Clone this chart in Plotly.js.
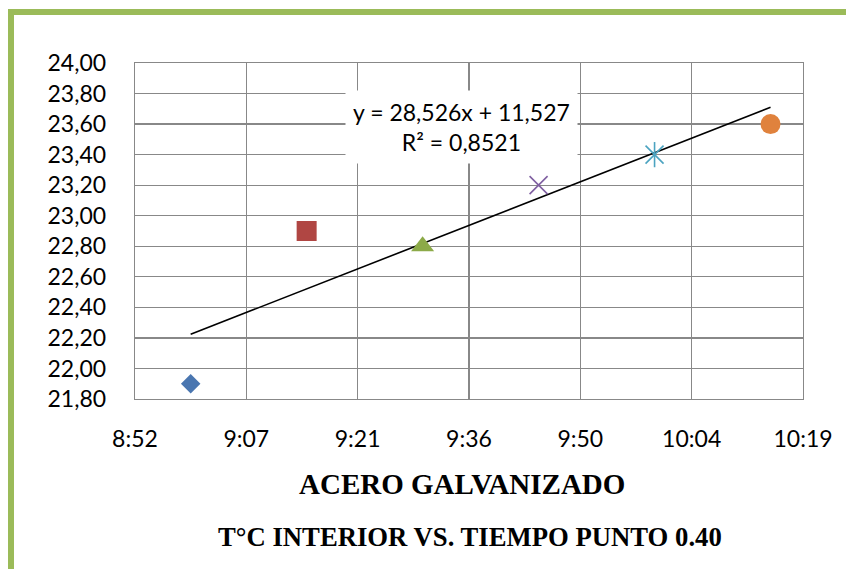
<!DOCTYPE html>
<html>
<head>
<meta charset="utf-8">
<script src="https://cdn.plot.ly/plotly-3.0.1.min.js"></script>
<style>
  html, body { margin: 0; padding: 0; background: #ffffff; }
  #wrap { position: relative; width: 846px; height: 569px; overflow: hidden; }
  #chart { position: absolute; left: 0; top: 0; width: 846px; height: 569px; }
  #frame { position: absolute; left: 8px; top: 9px; right: -10px; bottom: -10px;
           border-left: 6px solid #9BBB59; border-top: 6px solid #9BBB59; pointer-events: none; }
</style>
</head>
<body>
<div id="wrap">
  <div id="chart"></div>
  <div id="frame"></div>
</div>
<script>
// Times as fraction of a day (Excel time serial)
const timeLabels = ["9:00", "9:15", "9:30", "9:45", "10:00", "10:15"];
const timeValues = [9/24, (9 + 15/60)/24, (9 + 30/60)/24, (9 + 45/60)/24, 10/24, (10 + 15/60)/24];
const tempValues = [21.90, 22.90, 22.80, 23.20, 23.40, 23.60];

const xTickVals = [0.37, 0.38, 0.39, 0.40, 0.41, 0.42, 0.43];
const xTickText = ["8:52", "9:07", "9:21", "9:36", "9:50", "10:04", "10:19"];
const yTickVals = [21.8, 22.0, 22.2, 22.4, 22.6, 22.8, 23.0, 23.2, 23.4, 23.6, 23.8, 24.0];
const yTickText = ["21,80", "22,00", "22,20", "22,40", "22,60", "22,80", "23,00", "23,20", "23,40", "23,60", "23,80", "24,00"];

const equationText = "y = 28,526x + 11,527<br>R² = 0,8521";
const title1 = "ACERO GALVANIZADO";
const title2 = "T°C INTERIOR VS. TIEMPO PUNTO 0.40";

const markerSymbols = ["diamond", "square", "triangle-up", "x-thin-open", "x-thin-open", "circle"];
const markerColors = ["#4A76B0", "#B04643", "#8CAA48", "#7F5FA1", "#4BA3C0", "#E0823D"];
const markerSizes = [15, 20, 20, 18, 18, 20];

// least squares trendline from the data
const n = timeValues.length;
const mx = timeValues.reduce((a, b) => a + b, 0) / n;
const my = tempValues.reduce((a, b) => a + b, 0) / n;
let sxy = 0, sxx = 0;
for (let i = 0; i < n; i++) { sxy += (timeValues[i] - mx) * (tempValues[i] - my); sxx += (timeValues[i] - mx) ** 2; }
const slope = sxy / sxx, intercept = my - slope * mx;
const xMin = Math.min(...timeValues), xMax = Math.max(...timeValues);

const traces = [];
traces.push({
  x: [xMin, xMax], y: [slope * xMin + intercept, slope * xMax + intercept],
  mode: "lines", line: { color: "#000000", width: 1.6 }, hoverinfo: "skip", showlegend: false
});
for (let i = 0; i < n; i++) {
  const isX = markerSymbols[i].indexOf("x-thin") === 0;
  traces.push({
    x: [timeValues[i]], y: [tempValues[i]], mode: "markers", showlegend: false, name: timeLabels[i],
    marker: {
      symbol: markerSymbols[i], size: markerSizes[i], color: markerColors[i],
      line: isX ? { color: markerColors[i], width: 1.6 } : { width: 0 }
    }
  });
}
// vertical stroke of the star marker (10:00)
traces.push({
  x: [timeValues[4]], y: [tempValues[4]], mode: "markers", showlegend: false,
  marker: { symbol: "line-ns-open", size: 18, color: markerColors[4], line: { color: markerColors[4], width: 1.6 } }
});

const tickFont = { family: "Lato, 'Open Sans', sans-serif", size: 23, color: "#000000" };

const layout = {
  width: 846, height: 569,
  margin: { l: 135, r: 43, t: 63, b: 170 },
  paper_bgcolor: "#ffffff", plot_bgcolor: "#ffffff",
  showlegend: false,
  xaxis: {
    range: [0.37, 0.43], tickvals: xTickVals, ticktext: xTickText,
    showgrid: true, gridcolor: "#888888", gridwidth: 1.3,
    showline: true, linecolor: "#888888", linewidth: 1.3, mirror: true,
    zeroline: false, ticks: "", tickfont: tickFont, ticklabelstandoff: 19
  },
  yaxis: {
    range: [21.8, 24.0], tickvals: yTickVals, ticktext: yTickText,
    showgrid: true, gridcolor: "#888888", gridwidth: 1.3,
    showline: true, linecolor: "#888888", linewidth: 1.3, mirror: true,
    zeroline: false, ticks: "", tickfont: tickFont, ticklabelstandoff: 23
  },
  annotations: [
    {
      text: equationText, xref: "paper", yref: "paper", x: 0.4895, y: 0.8095,
      xanchor: "center", yanchor: "middle", showarrow: false,
      font: { family: "Lato, 'Open Sans', sans-serif", size: 23, color: "#000000" },
      bgcolor: "#ffffff", borderpad: 7, align: "center"
    },
    {
      text: "<b>" + title1 + "</b>", xref: "paper", yref: "paper", x: 0.490, y: -0.253,
      xanchor: "center", yanchor: "middle", showarrow: false,
      font: { family: "'Liberation Serif', 'Times New Roman', serif", size: 29, color: "#000000" }
    },
    {
      text: "<b>" + title2 + "</b>", xref: "paper", yref: "paper", x: 0.5015, y: -0.4107,
      xanchor: "center", yanchor: "middle", showarrow: false,
      font: { family: "'Liberation Serif', 'Times New Roman', serif", size: 26.7, color: "#000000" }
    }
  ]
};

Plotly.newPlot("chart", traces, layout, { displayModeBar: false, staticPlot: true });
</script>
</body>
</html>
